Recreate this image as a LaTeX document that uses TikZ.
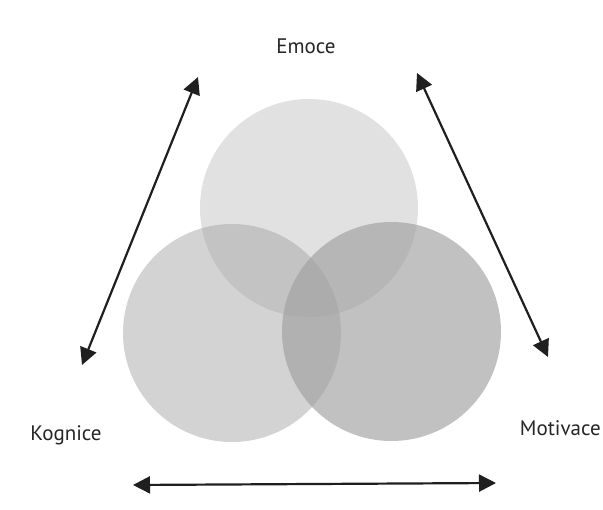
\documentclass[tikz,border=0pt]{standalone}
\usepackage{fontspec}
\setmainfont{PT Sans}
\usetikzlibrary{arrows.meta}
\begin{document}
\begin{tikzpicture}[x=1pt,y=-1pt,
  venn/.style={fill=vgray,draw=none},
  label/.style={font=\fontsize{21}{24}\selectfont,text=black!85,inner sep=0pt},
  dblarrow/.style={line width=2.2pt,draw=black!88,{Triangle[length=17pt,width=17pt]}-{Triangle[length=17pt,width=17pt]}}]
\definecolor{vgray}{HTML}{A0A0A0}
\useasboundingbox[fill=white] (0,0) rectangle (603,510);
% circles
\fill[venn,fill opacity=0.31] (309,208) circle (109);
\fill[venn,fill opacity=0.46] (232,333) circle (109);
\fill[venn,fill opacity=0.65] (391.5,331.5) circle (109.5);
% labels
\node[label] (emo) at (306,46) {Emoce};
\node[label] (kog) at (66,435) {Kognice};
\node[label,anchor=east] (mot) at (601,428) {Motivace};
% arrow end points
\coordinate (l1) at (198,77);
\coordinate (l2) at (82,365);
\coordinate (r1) at (417,73);
\coordinate (r2) at (548,357);
\coordinate (b1) at (133,485);
\coordinate (b2) at (496,483);
\draw[dblarrow] (l2) -- (l1);
\draw[dblarrow] (r1) -- (r2);
\draw[dblarrow] (b1) -- (b2);
\end{tikzpicture}
\end{document}
